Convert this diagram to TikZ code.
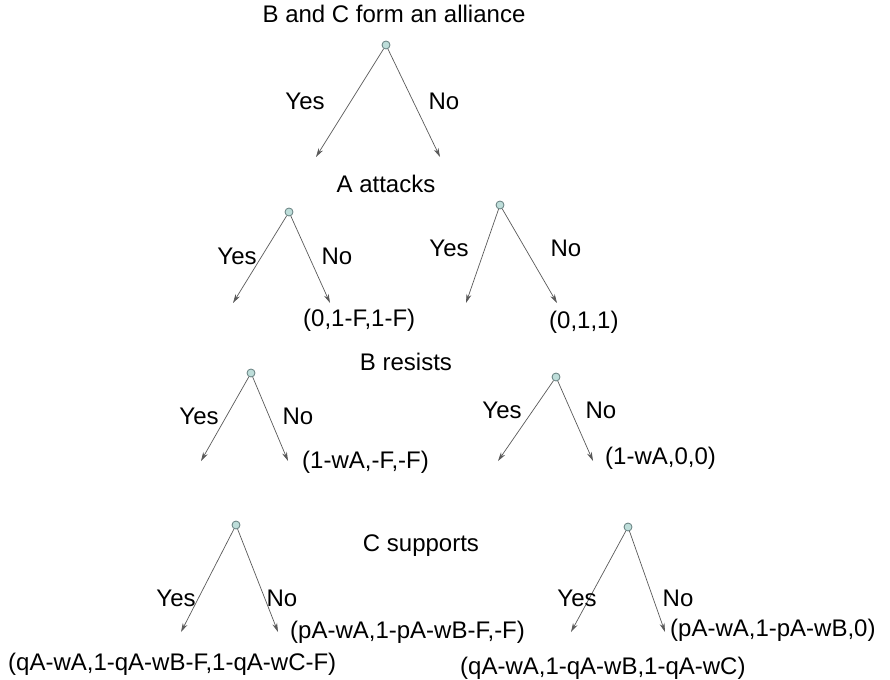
\documentclass[tikz,border=0pt]{standalone}
\usepackage{fontspec}
\setmainfont{Liberation Sans}
\usetikzlibrary{arrows.meta}

\definecolor{nodefill}{RGB}{190,222,218}
\definecolor{nodeline}{RGB}{100,125,125}

\begin{document}
\begin{tikzpicture}[x=1pt, y=-1pt,
  every node/.style={font=\fontsize{24}{28}\selectfont, inner sep=0pt},
  choice/.style={circle, draw=nodeline, line width=0.8pt, fill=nodefill, minimum size=8pt},
  move/.style={draw=black!65, line width=0.7pt, -{Stealth[length=9pt,width=5pt]}}]
  \useasboundingbox (0,0) rectangle (890,679);

  % B and C form an alliance
  \node (alliance) at (394,14) {B and C form an alliance};
  \node[choice] (n0) at (386,45) {};
  \coordinate (e0y) at (316,157);
  \coordinate (e0n) at (440,157);
  \draw[move] (n0) -- (e0y);
  \draw[move] (n0) -- (e0n);
  \node (l0y) at (305,101) {Yes};
  \node (l0n) at (444,101) {No};

  % A attacks
  \node (attacks) at (386,184) {A attacks};
  \node[choice] (n1) at (289,212) {};
  \coordinate (e1y) at (233,303);
  \coordinate (e1n) at (330,303);
  \draw[move] (n1) -- (e1y);
  \draw[move] (n1) -- (e1n);
  \node (l1y) at (237,256) {Yes};
  \node (l1n) at (337,256) {No};
  \node[anchor=west] (p1) at (303,320) {(0,1-F,1-F)};

  \node[choice] (n2) at (500,205) {};
  \coordinate (e2y) at (466,303);
  \coordinate (e2n) at (557,303);
  \draw[move] (n2) -- (e2y);
  \draw[move] (n2) -- (e2n);
  \node (l2y) at (449,248) {Yes};
  \node (l2n) at (566,248) {No};
  \node[anchor=west] (p2) at (549,322) {(0,1,1)};

  % B resists
  \node (resists) at (406,362) {B resists};
  \node[choice] (n3) at (251,373) {};
  \coordinate (e3y) at (201,461);
  \coordinate (e3n) at (288,461);
  \draw[move] (n3) -- (e3y);
  \draw[move] (n3) -- (e3n);
  \node (l3y) at (199,416) {Yes};
  \node (l3n) at (298,416) {No};
  \node[anchor=west] (p3) at (302,462) {(1-wA,-F,-F)};

  \node[choice] (n4) at (556,377) {};
  \coordinate (e4y) at (498,461);
  \coordinate (e4n) at (593,461);
  \draw[move] (n4) -- (e4y);
  \draw[move] (n4) -- (e4n);
  \node (l4y) at (502,410) {Yes};
  \node (l4n) at (601,410) {No};
  \node[anchor=west] (p4) at (605,458) {(1-wA,0,0)};

  % C supports
  \node (supports) at (421,546) {C supports};
  \node[choice] (n5) at (236,525) {};
  \coordinate (e5y) at (181,632);
  \coordinate (e5n) at (278,632);
  \draw[move] (n5) -- (e5y);
  \draw[move] (n5) -- (e5n);
  \node (l5y) at (176,598) {Yes};
  \node (l5n) at (282,598) {No};
  \node[anchor=west] (p5n) at (290,632) {(pA-wA,1-pA-wB-F,-F)};
  \node[anchor=west] (p5y) at (8,664) {(qA-wA,1-qA-wB-F,1-qA-wC-F)};

  \node[choice] (n6) at (628,527) {};
  \coordinate (e6y) at (571,632);
  \coordinate (e6n) at (665,632);
  \draw[move] (n6) -- (e6y);
  \draw[move] (n6) -- (e6n);
  \node (l6y) at (577,598) {Yes};
  \node (l6n) at (678,598) {No};
  \node[anchor=west] (p6n) at (670,630) {(pA-wA,1-pA-wB,0)};
  \node[anchor=west] (p6y) at (460,668) {(qA-wA,1-qA-wB,1-qA-wC)};
\end{tikzpicture}
\end{document}
